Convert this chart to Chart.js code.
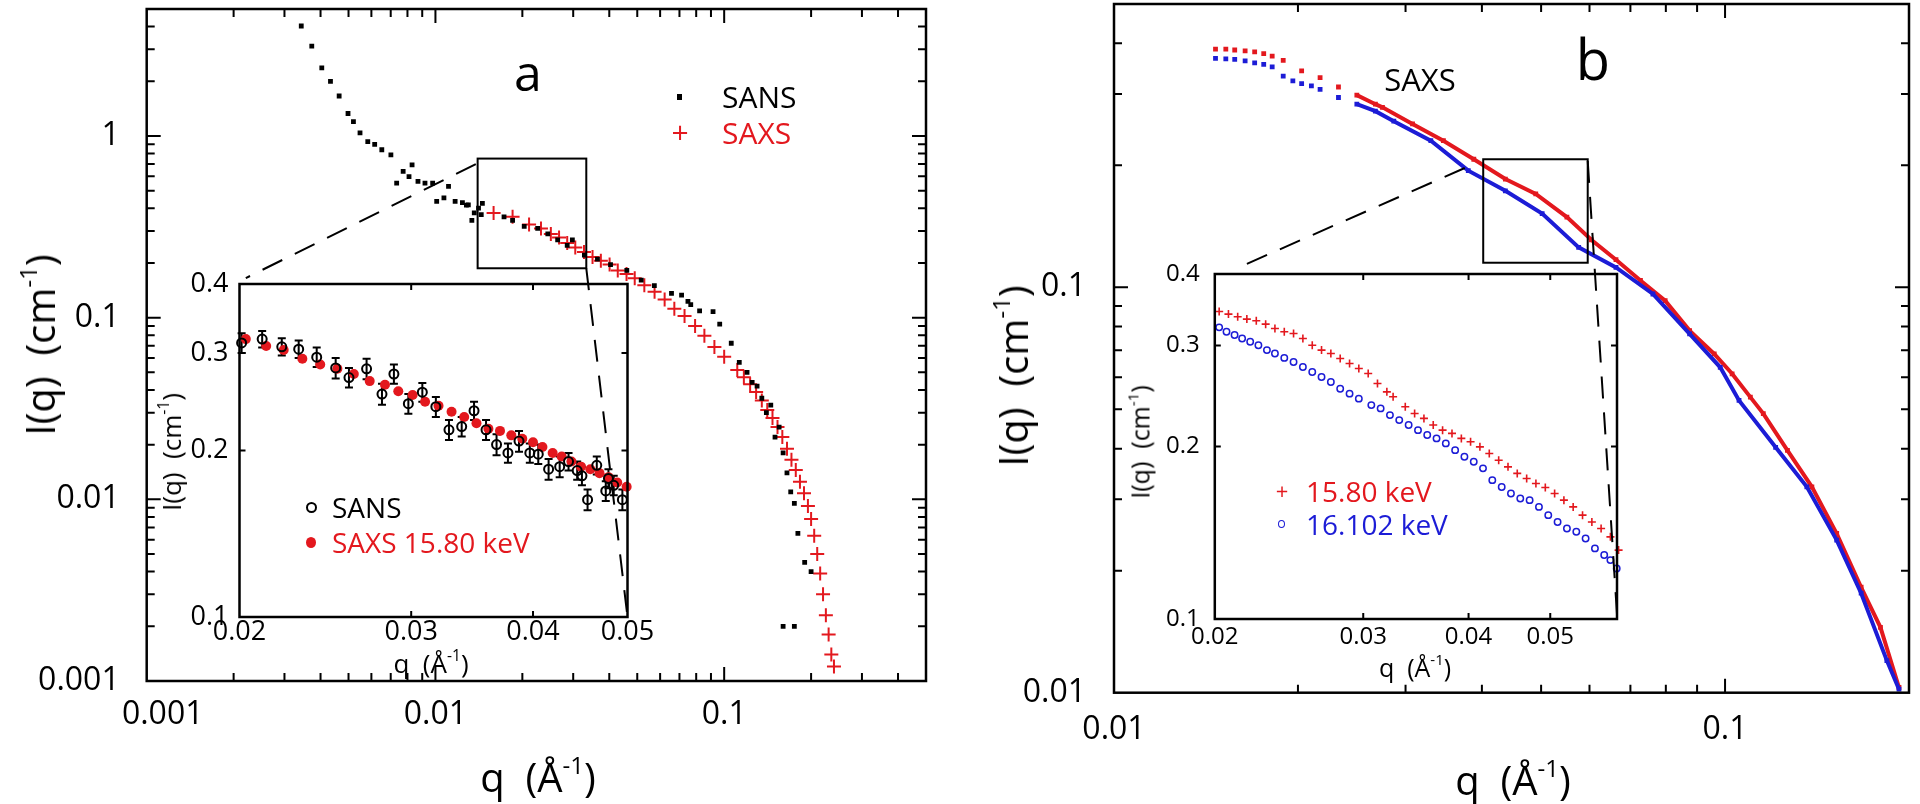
<!DOCTYPE html>
<html><head><meta charset="utf-8">
<script src="https://cdn.jsdelivr.net/npm/chart.js@4.4.1/dist/chart.umd.min.js"></script>
<style>
html,body{margin:0;padding:0;background:#fff}
body{width:1920px;height:804px;overflow:hidden;position:relative;font-family:'Open Sans','DejaVu Sans',sans-serif;color:#000}
canvas{position:absolute;top:0}
.t{position:absolute;white-space:nowrap;line-height:1}
.c{transform:translate(-50%,-50%)}
.l{transform:translate(0,-50%)}
.r{transform:translate(-50%,-50%) rotate(-90deg)}
sup{font-size:.6em;vertical-align:.75em;line-height:0}
.red{color:#e3181e}.blue{color:#1c1cd6}
</style></head><body>
<canvas id="ca" width="960" height="804" style="left:0"></canvas>
<canvas id="cai" width="960" height="804" style="left:0"></canvas>
<canvas id="cb" width="960" height="804" style="left:960px"></canvas>
<canvas id="cbi" width="960" height="804" style="left:960px"></canvas>

<!-- panel a texts -->
<div class="t c" style="left:538px;top:777px;font-size:40px">q&nbsp;&nbsp;(Å<sup>-1</sup>)</div>
<div class="t r" style="left:40px;top:345px;font-size:40px">I(q)&nbsp;&nbsp;(cm<sup>-1</sup>)</div>
<div class="t c" style="left:528px;top:72px;font-size:50px">a</div>
<div style="position:absolute;left:677px;top:94px;width:5px;height:6px;background:#000"></div>
<div class="t l" style="left:722px;top:97px;font-size:30px">SANS</div>
<div class="t c red" style="left:680px;top:132px;font-size:30px">+</div>
<div class="t l red" style="left:722px;top:133px;font-size:30px">SAXS</div>
<div class="t c" style="left:431px;top:663px;font-size:26px">q&nbsp;&nbsp;(Å<sup>-1</sup>)</div>
<div class="t r" style="left:171px;top:452px;font-size:26px">I(q)&nbsp;&nbsp;(cm<sup>-1</sup>)</div>
<div style="position:absolute;left:306px;top:502px;width:7px;height:7px;border:2px solid #000;border-radius:50%"></div>
<div class="t l" style="left:332px;top:507px;font-size:28px">SANS</div>
<div style="position:absolute;left:306px;top:537px;width:10px;height:11px;background:#e3181e;border-radius:50%"></div>
<div class="t l red" style="left:332px;top:542px;font-size:28px">SAXS 15.80 keV</div>

<!-- panel b texts -->
<div class="t c" style="left:1513px;top:780px;font-size:40px">q&nbsp;&nbsp;(Å<sup>-1</sup>)</div>
<div class="t r" style="left:1013px;top:376px;font-size:40px">I(q)&nbsp;&nbsp;(cm<sup>-1</sup>)</div>
<div class="t c" style="left:1593px;top:58px;font-size:56px">b</div>
<div class="t c" style="left:1420px;top:79px;font-size:31px">SAXS</div>
<div class="t c" style="left:1415px;top:667px;font-size:25px">q&nbsp;&nbsp;(Å<sup>-1</sup>)</div>
<div class="t r" style="left:1140px;top:442px;font-size:25px">I(q)&nbsp;&nbsp;(cm<sup>-1</sup>)</div>
<div class="t c red" style="left:1282px;top:490px;font-size:22px">+</div>
<div class="t l red" style="left:1306px;top:491px;font-size:28px">15.80 keV</div>
<div style="position:absolute;left:1278px;top:520px;width:5px;height:6px;border:1.5px solid #1c1cd6;border-radius:50%"></div>
<div class="t l blue" style="left:1306px;top:524px;font-size:28px">16.102 keV</div>

<script>
const FONT = "'Open Sans','DejaVu Sans',sans-serif";
const RED = '#e3181e', BLUE = '#1c1cd6';

// ================= Panel a : main plot =================
const aSansQ = [0.00343,0.00373,0.00404,0.00433,0.00464,0.00498,0.0052,0.00548,0.00583,0.00616,0.00652,0.00701,0.00734,0.00773,0.0081,0.0083,0.0087,0.0092,0.00978,0.0101,0.0107,0.0111,0.0117,0.0124,0.0128,0.013,0.01337,0.01363,0.0141,0.01441,0.01454,0.01728,0.0185,0.0203,0.0226,0.0245,0.0265,0.0286,0.0298,0.0328,0.0364,0.0404,0.046,0.0516,0.0573,0.0657,0.0712,0.0749,0.0766,0.0822,0.0915,0.0965,0.1058,0.1128,0.12,0.125,0.13,0.135,0.14,0.145,0.15,0.155,0.16,0.165,0.17,0.175,0.18,0.19,0.2,0.16,0.175];
const aSansI = [4.03,3.12,2.37,2.0,1.66,1.33,1.2,1.04,0.93,0.90,0.84,0.787,0.55,0.638,0.598,0.694,0.562,0.55,0.55,0.437,0.456,0.528,0.437,0.43,0.416,0.418,0.343,0.377,0.401,0.369,0.426,0.359,0.343,0.318,0.31,0.289,0.268,0.25,0.268,0.221,0.21,0.196,0.182,0.161,0.15,0.136,0.133,0.123,0.118,0.109,0.108,0.0922,0.0723,0.0567,0.05,0.044,0.042,0.036,0.03,0.033,0.022,0.025,0.018,0.014,0.011,0.0095,0.0065,0.0045,0.004,0.002,0.002];
const aSaxsQ = [0.0159,0.0185,0.0211,0.0232,0.0251,0.0268,0.0286,0.0305,0.0327,0.035,0.0374,0.0401,0.0428,0.0459,0.049,0.0529,0.0574,0.0622,0.0672,0.0729,0.0793,0.0854,0.0925,0.1,0.111,0.117,0.123,0.129,0.135,0.141,0.147,0.153,0.159,0.165,0.171,0.177,0.183,0.189,0.195,0.2,0.205,0.21,0.215,0.22,0.225,0.23,0.235,0.24];
const aSaxsI = [0.377,0.359,0.326,0.31,0.289,0.276,0.258,0.243,0.23,0.216,0.206,0.196,0.182,0.174,0.165,0.151,0.139,0.126,0.112,0.102,0.09,0.0796,0.069,0.061,0.0515,0.047,0.043,0.039,0.035,0.031,0.028,0.025,0.022,0.019,0.0165,0.0145,0.0125,0.0108,0.0092,0.0078,0.0063,0.005,0.0039,0.003,0.0023,0.0018,0.0014,0.0012];

// ================= Panel a : inset =================
const aInsSansQ = [0.0201,0.0211,0.0221,0.023,0.024,0.0251,0.0259,0.027,0.028,0.0288,0.0298,0.0308,0.0318,0.0328,0.0338,0.0348,0.0358,0.0367,0.0377,0.0387,0.0397,0.0405,0.0415,0.0426,0.0435,0.0444,0.0449,0.0455,0.0465,0.0475,0.0478,0.0484,0.0494];
const aInsSansI = [0.313,0.318,0.308,0.305,0.295,0.282,0.271,0.281,0.253,0.275,0.243,0.255,0.24,0.218,0.221,0.236,0.218,0.205,0.198,0.208,0.198,0.197,0.185,0.187,0.191,0.184,0.18,0.163,0.188,0.169,0.178,0.173,0.163];
const aInsSansErr = [0.013,0.011,0.011,0.011,0.012,0.012,0.011,0.012,0.011,0.011,0.010,0.010,0.010,0.009,0.009,0.009,0.009,0.009,0.008,0.009,0.008,0.008,0.008,0.008,0.007,0.007,0.007,0.007,0.007,0.007,0.007,0.007,0.007];
const aInsSaxsQ = [0.0203,0.0213,0.0222,0.0232,0.0242,0.0252,0.0262,0.0272,0.0282,0.0291,0.0301,0.031,0.032,0.033,0.034,0.035,0.036,0.037,0.038,0.039,0.04,0.0409,0.0419,0.0428,0.0438,0.0448,0.0458,0.0468,0.0478,0.0488,0.0499];
const aInsSaxsI = [0.318,0.309,0.304,0.293,0.286,0.281,0.275,0.267,0.263,0.256,0.252,0.245,0.241,0.235,0.23,0.224,0.219,0.217,0.213,0.21,0.207,0.203,0.198,0.195,0.191,0.187,0.185,0.182,0.179,0.175,0.172];

// ================= Panel b : main plot =================
const b1580Q = [0.01466,0.01524,0.01576,0.01639,0.01699,0.01758,0.01815,0.01892,0.02028,0.02174,0.0233,0.02497,0.02678,0.0275,0.0308,0.0346,0.0388,0.0437,0.049,0.0551,0.0604,0.0663,0.0727,0.0798,0.0875,0.096,0.1027,0.11,0.1155,0.1265,0.1387,0.1523,0.167,0.1796,0.1926];
const b1580I = [0.387,0.387,0.385,0.383,0.381,0.377,0.372,0.363,0.342,0.329,0.312,0.298,0.283,0.278,0.253,0.23,0.207,0.185,0.17,0.149,0.131,0.117,0.104,0.0927,0.0782,0.0685,0.0612,0.0536,0.0488,0.0396,0.0322,0.0247,0.0182,0.0145,0.0103];
const b16102Q = [0.01466,0.01524,0.01576,0.01639,0.01699,0.01758,0.01815,0.01892,0.01962,0.02028,0.02104,0.02174,0.0233,0.02497,0.02678,0.0287,0.033,0.038,0.0437,0.0502,0.0576,0.0663,0.0762,0.0875,0.0982,0.1054,0.121,0.1361,0.1523,0.167,0.184,0.1926];
const b16102I = [0.367,0.366,0.365,0.362,0.358,0.355,0.350,0.332,0.323,0.318,0.314,0.308,0.294,0.283,0.272,0.257,0.23,0.194,0.173,0.152,0.1255,0.112,0.0963,0.0768,0.0635,0.0526,0.0403,0.0322,0.0238,0.0176,0.012,0.0102];

// ================= Panel b : inset =================
const bIns1580Q = [0.02024,0.02076,0.02129,0.02183,0.0224,0.02298,0.02357,0.02418,0.0248,0.02544,0.0261,0.02677,0.02746,0.02817,0.0289,0.02964,0.03041,0.03119,0.032,0.03255,0.03365,0.03452,0.03541,0.03632,0.03726,0.03823,0.03922,0.04022,0.04126,0.04233,0.04343,0.04455,0.04569,0.04688,0.04808,0.04933,0.0506,0.0519,0.05323,0.05461,0.05602,0.05745,0.05893,0.06026];
const bIns1580I = [0.344,0.3405,0.3368,0.3337,0.3314,0.327,0.3214,0.3171,0.315,0.3087,0.3005,0.2946,0.2906,0.2848,0.2791,0.2736,0.2682,0.2576,0.2491,0.2442,0.2346,0.2284,0.2239,0.218,0.2136,0.2108,0.2066,0.2038,0.1997,0.1945,0.1893,0.1843,0.1795,0.1759,0.1724,0.1696,0.1656,0.1612,0.1569,0.1518,0.1477,0.1439,0.1391,0.1319];
const bIns16102Q = [0.02024,0.02065,0.02111,0.02155,0.02203,0.02253,0.02306,0.02357,0.02418,0.0248,0.02544,0.0261,0.02677,0.02746,0.02817,0.0289,0.02964,0.03067,0.03146,0.03227,0.0331,0.03396,0.03484,0.03573,0.03665,0.03759,0.03856,0.03955,0.04057,0.04161,0.04268,0.04379,0.04491,0.04607,0.04726,0.04848,0.04973,0.05101,0.05233,0.05369,0.05507,0.05649,0.05794,0.05893,0.05995];
const bIns16102I = [0.3228,0.3171,0.3131,0.3087,0.3046,0.3005,0.2946,0.2906,0.2855,0.2809,0.2753,0.2698,0.2644,0.2591,0.2523,0.2473,0.2424,0.2362,0.2331,0.2269,0.2224,0.218,0.2136,0.2094,0.2066,0.2025,0.1971,0.1919,0.1881,0.1832,0.1747,0.17,0.1656,0.1623,0.1612,0.1569,0.1518,0.1477,0.1439,0.142,0.1382,0.1328,0.1293,0.1267,0.1225];

// ================= Tick values and labels =================
const aXTicks = [0.001,0.002,0.003,0.004,0.005,0.006,0.007,0.008,0.009,0.01,0.02,0.03,0.04,0.05,0.06,0.07,0.08,0.09,0.1,0.2,0.3,0.4,0.5];
const aXLabels = [0.001,0.01,0.1];
const aYTicks = [0.001,0.002,0.003,0.004,0.005,0.006,0.007,0.008,0.009,0.01,0.02,0.03,0.04,0.05,0.06,0.07,0.08,0.09,0.1,0.2,0.3,0.4,0.5,0.6,0.7,0.8,0.9,1,2,3,4,5];
const aYLabels = [0.001,0.01,0.1,1];
const aInsXTicks = [0.02,0.03,0.04,0.05];
const aInsXLabels = [0.02,0.03,0.04,0.05];
const aInsYTicks = [0.1,0.2,0.3,0.4];
const aInsYLabels = [0.1,0.2,0.3,0.4];
const bXTicks = [0.01,0.02,0.03,0.04,0.05,0.06,0.07,0.08,0.09,0.1,0.2];
const bXLabels = [0.01,0.1];
const bYTicks = [0.01,0.02,0.03,0.04,0.05,0.06,0.07,0.08,0.09,0.1,0.2,0.3,0.4,0.5];
const bYLabels = [0.01,0.1];
const bInsXTicks = [0.02,0.03,0.04,0.05,0.06];
const bInsXLabels = [0.02,0.03,0.04,0.05];
const bInsYTicks = [0.1,0.2,0.3,0.4];
const bInsYLabels = [0.1,0.2,0.3,0.4];

// zoom boxes and connecting dashed lines (data units of the respective axes)
const aBoxQ = [0.014,0.0333], aBoxI = [0.187,0.751];
const aLinkFrom = [[0.0138,0.70],[0.0333,0.187]], aLinkTo = [[0.0203,0.41],[0.05,0.1]];
const bBoxQ = [0.0402,0.0596], bBoxI = [0.115,0.207];
const bLinkFrom = [[0.0375,0.197],[0.0596,0.205]], bLinkTo = [[0.0211,0.4076],[0.06,0.102]];

const pts = (qs, is) => qs.map((q, i) => ({x: q, y: is[i]}));
const charts = {};

function makeFrame(cfg) {
  return {
    id: 'frame',
    beforeDatasetsDraw(chart) {
      const a = chart.chartArea, ctx = chart.ctx;
      if (cfg.bg) { ctx.save(); ctx.fillStyle = '#fff'; ctx.fillRect(a.left, a.top, a.right - a.left, a.bottom - a.top); ctx.restore(); }
      const xs = chart.scales.x, ys = chart.scales.y;
      chart.data.datasets.forEach(ds => {
        if (!ds.errBars) return;
        ctx.save(); ctx.strokeStyle = '#000'; ctx.lineWidth = 2;
        ds.data.forEach((p, i) => {
          const e = ds.errBars[i], px = xs.getPixelForValue(p.x);
          const y1 = ys.getPixelForValue(p.y - e), y2 = ys.getPixelForValue(p.y + e);
          ctx.beginPath();
          ctx.moveTo(px, y1); ctx.lineTo(px, y2);
          ctx.moveTo(px - 4, y1); ctx.lineTo(px + 4, y1);
          ctx.moveTo(px - 4, y2); ctx.lineTo(px + 4, y2);
          ctx.stroke();
        });
        ctx.restore();
      });
    },
    afterDatasetsDraw(chart) {
      const a = chart.chartArea, ctx = chart.ctx, xs = chart.scales.x, ys = chart.scales.y;
      ctx.save();
      ctx.strokeStyle = '#000'; ctx.lineWidth = cfg.tickW; ctx.setLineDash([]);
      ctx.beginPath();
      cfg.xTicks.forEach(v => {
        const px = xs.getPixelForValue(v);
        if (px <= a.left + 1.5 || px >= a.right - 1.5) return;
        const L = cfg.xLab.includes(v) && cfg.majL ? cfg.majL : cfg.minL;
        ctx.moveTo(px, a.bottom); ctx.lineTo(px, a.bottom - L);
        ctx.moveTo(px, a.top); ctx.lineTo(px, a.top + L);
      });
      cfg.yTicks.forEach(v => {
        const py = ys.getPixelForValue(v);
        if (py <= a.top + 1.5 || py >= a.bottom - 1.5) return;
        const L = cfg.yLab.includes(v) && cfg.majL ? cfg.majL : cfg.minL;
        ctx.moveTo(a.left, py); ctx.lineTo(a.left + L, py);
        ctx.moveTo(a.right, py); ctx.lineTo(a.right - L, py);
      });
      ctx.stroke();
      ctx.lineWidth = cfg.frameW;
      ctx.strokeRect(a.left, a.top, a.right - a.left, a.bottom - a.top);
      if (cfg.box) {
        const x1 = xs.getPixelForValue(cfg.box[0][0]), x2 = xs.getPixelForValue(cfg.box[0][1]);
        const y1 = ys.getPixelForValue(cfg.box[1][1]), y2 = ys.getPixelForValue(cfg.box[1][0]);
        ctx.lineWidth = 2;
        ctx.strokeRect(x1, y1, x2 - x1, y2 - y1);
      }
      if (cfg.links) {
        const M = charts[cfg.links.main];
        ctx.lineWidth = 2; ctx.setLineDash([22, 14]);
        cfg.links.from.forEach((f, i) => {
          const t = cfg.links.to[i];
          ctx.beginPath();
          ctx.moveTo(M.scales.x.getPixelForValue(f[0]), M.scales.y.getPixelForValue(f[1]));
          ctx.lineTo(xs.getPixelForValue(t[0]), ys.getPixelForValue(t[1]));
          ctx.stroke();
        });
      }
      ctx.restore();
    }
  };
}

function makeChart(id, cfg) {
  const cv = document.getElementById(id);
  const W = cv.width, H = cv.height, A = cfg.area;
  const tickFont = {family: FONT, size: cfg.fs, lineHeight: 1};
  const fmtX = cfg.fmtX || (v => String(v));
  return new Chart(cv, {
    type: 'scatter',
    data: {datasets: cfg.datasets},
    options: {
      responsive: false, maintainAspectRatio: false, animation: false, devicePixelRatio: 1, events: [],
      layout: {padding: {left: 0, top: A.t, right: W - A.r, bottom: 0}},
      plugins: {legend: {display: false}, tooltip: {enabled: false}},
      scales: {
        x: {
          type: 'logarithmic', position: 'bottom', min: cfg.xr[0], max: cfg.xr[1],
          afterBuildTicks: s => { s.ticks = cfg.xTicks.map(v => ({value: v})); },
          afterFit: s => { s.height = H - A.b; s.paddingLeft = 0; s.paddingRight = 0; },
          ticks: {autoSkip: false, maxRotation: 0, minRotation: 0, padding: cfg.xPad, color: '#000', font: tickFont,
                  callback: v => cfg.xLab.includes(v) ? fmtX(v) : ''},
          grid: {display: false, drawTicks: false}, border: {display: false}
        },
        y: {
          type: 'logarithmic', position: 'left', min: cfg.yr[0], max: cfg.yr[1],
          afterBuildTicks: s => { s.ticks = cfg.yTicks.map(v => ({value: v})); },
          afterFit: s => { s.width = A.l; s.paddingTop = 0; s.paddingBottom = 0; },
          ticks: {autoSkip: false, padding: cfg.yPad, color: '#000', font: tickFont,
                  callback: v => cfg.yLab.includes(v) ? String(v) : ''},
          grid: {display: false, drawTicks: false}, border: {display: false}
        }
      }
    },
    plugins: [makeFrame(cfg)]
  });
}

// ---------- Panel a main ----------
charts.A = makeChart('ca', {
  area: {l: 146.7, t: 7.3, r: 926, b: 681}, xr: [0.001, 0.5], yr: [0.001, 5],
  xTicks: aXTicks, xLab: aXLabels, yTicks: aYTicks, yLab: aYLabels,
  fmtX: v => (v === 0.001 ? '\u2003' + String(v) : String(v)),
  fs: 32, xPad: 18, yPad: 27, tickW: 2, frameW: 2.5, minL: 8, majL: 14,
  box: [aBoxQ, aBoxI],
  datasets: [
    {label: 'SANS', data: pts(aSansQ, aSansI), pointStyle: 'rect', pointRadius: 3.4, pointBorderWidth: 0, pointBackgroundColor: '#000', showLine: false},
    {label: 'SAXS', data: pts(aSaxsQ, aSaxsI), pointStyle: 'cross', pointRadius: 7, pointBorderWidth: 2, pointBorderColor: RED, showLine: false}
  ]
});
// ---------- Panel a inset ----------
charts.AI = makeChart('cai', {
  area: {l: 239.5, t: 284, r: 627.5, b: 617}, xr: [0.02, 0.05], yr: [0.1, 0.4],
  xTicks: aInsXTicks, xLab: aInsXLabels, yTicks: aInsYTicks, yLab: aInsYLabels,
  fs: 27, xPad: 2, yPad: 11, tickW: 2, frameW: 2.5, minL: 6, majL: 6, bg: true,
  links: {main: 'A', from: aLinkFrom, to: aLinkTo},
  datasets: [
    {label: 'SANS', data: pts(aInsSansQ, aInsSansI), errBars: aInsSansErr, pointStyle: 'circle', pointRadius: 4.5, pointBorderWidth: 2, pointBorderColor: '#000', pointBackgroundColor: 'rgba(0,0,0,0)', showLine: false, clip: false},
    {label: 'SAXS 15.80 keV', data: pts(aInsSaxsQ, aInsSaxsI), pointStyle: 'circle', pointRadius: 5, pointBorderWidth: 0, pointBackgroundColor: RED, showLine: false, clip: false}
  ]
});

// ---------- Panel b main ----------
const hideSparse = c => (c.p1.parsed.x <= 0.0255 ? 'rgba(0,0,0,0)' : undefined);
charts.B = makeChart('cb', {
  area: {l: 154, t: 4, r: 949, b: 692.7}, xr: [0.01, 0.2], yr: [0.01, 0.5],
  xTicks: bXTicks, xLab: bXLabels, yTicks: bYTicks, yLab: bYLabels,
  fs: 32, xPad: 21, yPad: 28, tickW: 2, frameW: 2.5, minL: 8, majL: 14,
  box: [bBoxQ, bBoxI],
  datasets: [
    {label: '16.102 keV', data: pts(b16102Q, b16102I), showLine: true, borderColor: BLUE, borderWidth: 4, segment: {borderColor: hideSparse}, pointStyle: 'rect', pointRadius: 3.4, pointBorderWidth: 0, pointBackgroundColor: BLUE},
    {label: '15.80 keV', data: pts(b1580Q, b1580I), showLine: true, borderColor: RED, borderWidth: 4, segment: {borderColor: hideSparse}, pointStyle: 'rect', pointRadius: 3.4, pointBorderWidth: 0, pointBackgroundColor: RED}
  ]
});
// ---------- Panel b inset ----------
charts.BI = makeChart('cbi', {
  area: {l: 254.8, t: 274, r: 657, b: 619}, xr: [0.02, 0.06], yr: [0.1, 0.4],
  xTicks: bInsXTicks, xLab: bInsXLabels, yTicks: bInsYTicks, yLab: bInsYLabels,
  fs: 24, xPad: 6, yPad: 15, tickW: 2, frameW: 2.5, minL: 6, majL: 6, bg: true,
  links: {main: 'B', from: bLinkFrom, to: bLinkTo},
  datasets: [
    {label: '15.80 keV', data: pts(bIns1580Q, bIns1580I), pointStyle: 'cross', pointRadius: 4, pointBorderWidth: 1.6, pointBorderColor: RED, showLine: false, clip: false},
    {label: '16.102 keV', data: pts(bIns16102Q, bIns16102I), pointStyle: 'circle', pointRadius: 3.2, pointBorderWidth: 1.5, pointBorderColor: BLUE, pointBackgroundColor: 'rgba(0,0,0,0)', showLine: false, clip: false}
  ]
});
</script>
</body></html>
